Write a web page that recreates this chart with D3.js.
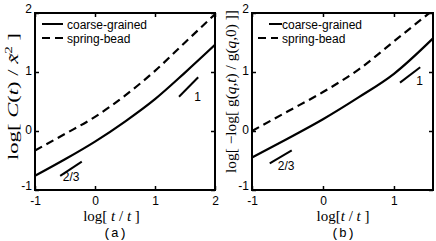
<!DOCTYPE html>
<html>
<head>
<meta charset="utf-8">
<script src="https://cdn.jsdelivr.net/npm/d3@7"></script>
<style>
  body { margin:0; background:#fff; }
  svg { display:block; }
  .tick text { font-family:"Liberation Sans", Arial, sans-serif; font-size:12px; fill:#000; }
  .tick line { stroke:#000; stroke-width:1.5px; }
  .legend text, .slope text { font-family:"Liberation Sans", Arial, sans-serif; font-size:12px; }
  .axis-label { font-family:"Liberation Serif", "Times New Roman", serif; font-size:15px; }
  .panel-tag { font-family:"Liberation Mono", "Courier New", monospace; font-size:13px; }
</style>
</head>
<body>
<div class="canvas"></div>
<script>
// ---- DATA ----
var yTicks = [-1, 0, 1, 2];
var xTicksA = [-1, 0, 1, 2];
var xTicksB = [-1, 0, 1];
var seriesNames = ['coarse-grained', 'spring-bead'];

// panel (a): log C(t)/x^2
var xA = [-1, -0.5, 0, 0.5, 1, 1.5, 2];
var coarseA = [-0.76, -0.48, -0.18, 0.16, 0.54, 0.99, 1.46];
var springA = [-0.33, -0.05, 0.24, 0.60, 1.02, 1.50, 1.98];

// panel (b): log(-log g(q,t)/g(q,0))
var xB = [-1, -0.5, 0, 0.5, 1, 1.55];
var coarseB = [-0.45, -0.13, 0.20, 0.57, 0.97, 1.57];
var springB = [0.00, 0.33, 0.66, 1.04, 1.52, 2.05];

// slope guides [x1, y1, x2, y2, label]
var slopesA = [[-0.58, -0.76, -0.22, -0.52, '2/3'], [1.40, 0.58, 1.72, 0.91, '1']];
var slopesB = [[-0.75, -0.55, -0.44, -0.33, '2/3'], [1.085, 0.82, 1.37, 1.08, '1']];


// ---- CONVENTIONS ----
var outerWidth = 436, outerHeight = 241;
var plotTop = 13, plotBottom = 190;

var svg = d3.select('.canvas')
    .append('svg')
    .attr('width', outerWidth)
    .attr('height', outerHeight);

svg.append('rect').attr('width', outerWidth).attr('height', outerHeight).attr('fill', '#fff');

var panels = [
    { id:'a', left:35, right:215, xDomain:[-1, 2], xTicks:xTicksA, x:xA, coarse:coarseA, spring:springA,
      slopes:slopesA, labelOff:[[-19, 5], [-4, 4]],
      legend:{ dash:[7, 28], solid:[7, 28], text:32 },
      xLabel:{ cx:111.5, gap:' ' }, tag:{ cx:115 } },
    { id:'b', left:252, right:433, xDomain:[-1, 1.55], xTicks:xTicksB, x:xB, coarse:coarseB, spring:springB,
      slopes:slopesB, labelOff:[[-14, 7], [-4, 2]],
      legend:{ dash:[6, 26], solid:[17, 30], text:30 },
      xLabel:{ cx:343, gap:'' }, tag:{ cx:343 } }
];

panels.forEach(drawPanel);

// ---- AXIS TITLES ----
var labA = svg.append('text')
    .attr('class', 'axis-label')
    .attr('text-anchor', 'middle')
    .attr('transform', 'translate(18,96.5) rotate(-90)')
    .attr('textLength', 127)
    .attr('lengthAdjust', 'spacingAndGlyphs');
labA.append('tspan').text('log[ ');
labA.append('tspan').style('font-style', 'italic').text('C');
labA.append('tspan').text('(');
labA.append('tspan').style('font-style', 'italic').text('t');
labA.append('tspan').text(') / ');
labA.append('tspan').style('font-style', 'italic').text('x\u0303');
labA.append('tspan').attr('dy', -6).style('font-size', '10px').text('2');
labA.append('tspan').attr('dy', 6).text(' ]');

var labB = svg.append('text')
    .attr('class', 'axis-label')
    .attr('text-anchor', 'middle')
    .attr('transform', 'translate(236,91.5) rotate(-90)')
    .attr('textLength', 163)
    .attr('lengthAdjust', 'spacingAndGlyphs');
labB.append('tspan').text('log[ \u2212log[ g(');
labB.append('tspan').style('font-style', 'italic').text('q');
labB.append('tspan').text(',');
labB.append('tspan').style('font-style', 'italic').text('t');
labB.append('tspan').text(') / g(');
labB.append('tspan').style('font-style', 'italic').text('q');
labB.append('tspan').text(',0) ]]');


// ---- DRAW FUNCTION ----
function drawPanel(p) {
    var scaleX = d3.scaleLinear().domain(p.xDomain).range([p.left, p.right]);
    var scaleY = d3.scaleLinear().domain([-1, 2]).range([plotBottom, plotTop]);
    var w = p.right - p.left, h = plotBottom - plotTop;

    var g = svg.append('g').attr('class', 'panel-' + p.id);

    // axes, ticks pointing inward
    var axisB = d3.axisBottom(scaleX).tickValues(p.xTicks).tickSize(-4).tickPadding(6).tickFormat(d3.format('d'));
    var axisT = d3.axisTop(scaleX).tickValues(p.xTicks).tickSize(-4).tickFormat('');
    var axisL = d3.axisLeft(scaleY).tickValues(yTicks).tickSize(-4).tickPadding(3).tickFormat(d3.format('d'));
    var axisR = d3.axisRight(scaleY).tickValues(yTicks).tickSize(-4).tickFormat('');

    g.append('g').attr('transform', 'translate(0,' + plotBottom + ')').call(axisB);
    g.append('g').attr('transform', 'translate(0,' + plotTop + ')').call(axisT);
    var yAx = g.append('g').attr('transform', 'translate(' + p.left + ',0)').call(axisL);
    g.append('g').attr('transform', 'translate(' + p.right + ',0)').call(axisR);
    g.selectAll('.domain').remove();
    g.selectAll('.tick text').text(function(){ return this.textContent.replace('\u2212', '-'); });

    // end labels sit a bit higher
    yAx.selectAll('.tick text').attr('y', function(d){ return (d === -1 || d === 2) ? -4 : -1; });

    // clip
    svg.append('clipPath').attr('id', 'clip-' + p.id)
        .append('rect').attr('x', p.left).attr('y', plotTop).attr('width', w).attr('height', h);

    var lineGenerator = d3.line()
        .x(function(d){ return scaleX(d[0]); })
        .y(function(d){ return scaleY(d[1]); })
        .curve(d3.curveMonotoneX);

    var coarse = p.x.map(function(x, i){ return [x, p.coarse[i]]; });
    var spring = p.x.map(function(x, i){ return [x, p.spring[i]]; });

    var plot = g.append('g').attr('clip-path', 'url(#clip-' + p.id + ')');
    plot.append('path')
        .datum(spring)
        .attr('d', lineGenerator)
        .style('fill', 'none').style('stroke', '#000').style('stroke-width', '2.2px')
        .style('stroke-dasharray', '8,5');
    plot.append('path')
        .datum(coarse)
        .attr('d', lineGenerator)
        .style('fill', 'none').style('stroke', '#000').style('stroke-width', '2.2px');

    // slope guides
    var sl = g.selectAll('.slope').data(p.slopes).enter().append('g').attr('class', 'slope');
    sl.append('line')
        .attr('x1', function(d){ return scaleX(d[0]); })
        .attr('y1', function(d){ return scaleY(d[1]); })
        .attr('x2', function(d){ return scaleX(d[2]); })
        .attr('y2', function(d){ return scaleY(d[3]); })
        .style('stroke', '#000').style('stroke-width', '2px');
    sl.append('text')
        .attr('x', function(d, i){ return scaleX(d[2]) + p.labelOff[i][0]; })
        .attr('y', function(d, i){ return scaleY(d[1]) + p.labelOff[i][1]; })
        .text(function(d){ return d[4]; });

    // frame
    g.append('rect')
        .attr('x', p.left).attr('y', plotTop).attr('width', w).attr('height', h)
        .style('fill', 'none').style('stroke', '#000').style('stroke-width', '2px');

    // legend
    var lg = g.append('g').attr('class', 'legend');
    var rows = [{ name:seriesNames[0], y:24, span:p.legend.solid, dash:null },
                { name:seriesNames[1], y:38, span:p.legend.dash, dash:'8,5' }];
    rows.forEach(function(r){
        lg.append('line')
            .attr('x1', p.left + r.span[0]).attr('x2', p.left + r.span[1])
            .attr('y1', r.y).attr('y2', r.y)
            .style('stroke', '#000').style('stroke-width', '2px')
            .style('stroke-dasharray', r.dash);
        lg.append('text')
            .attr('x', p.left + p.legend.text).attr('y', r.y + 4.5)
            .text(r.name);
    });

    // x title and tag
    var xl = svg.append('text')
        .attr('class', 'axis-label')
        .attr('text-anchor', 'middle')
        .attr('x', p.xLabel.cx).attr('y', 221);
    xl.append('tspan').text('log[' + p.xLabel.gap);
    xl.append('tspan').style('font-style', 'italic').text('t');
    xl.append('tspan').text(' / ');
    xl.append('tspan').style('font-style', 'italic').text('t');
    xl.append('tspan').text(' ]');

    svg.append('text')
        .attr('class', 'panel-tag')
        .attr('text-anchor', 'middle')
        .attr('x', p.tag.cx).attr('y', 237)
        .text('(' + p.id + ')');
}
</script>
</body>
</html>
